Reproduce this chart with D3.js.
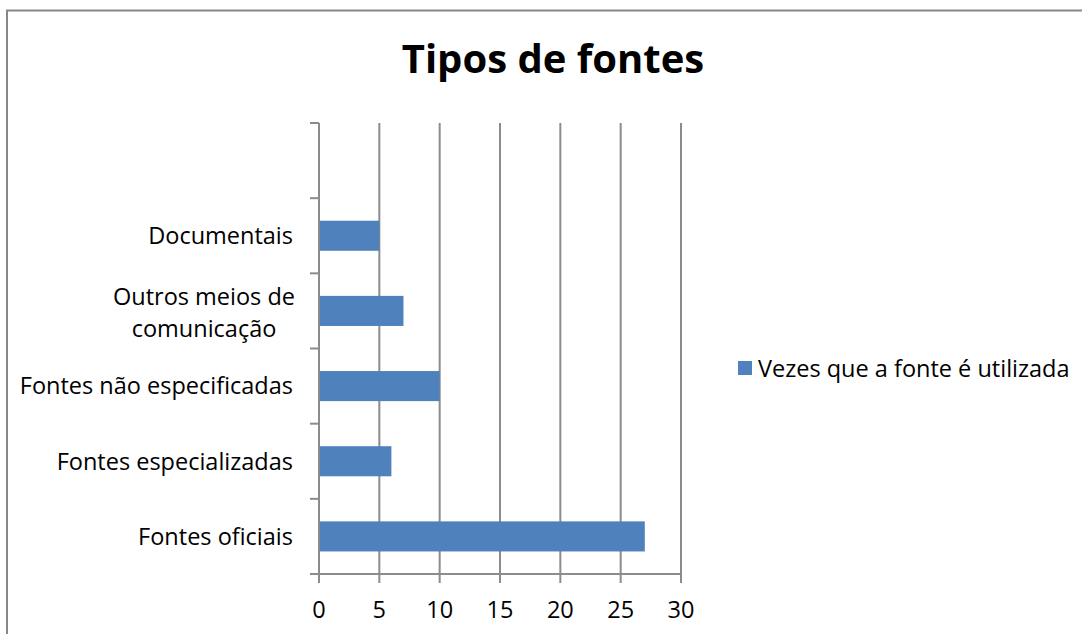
<!DOCTYPE html>
<html><head><meta charset="utf-8">
<script src="https://cdn.jsdelivr.net/npm/d3@7"></script>
<style>body{margin:0;background:#fff}svg{display:block}</style>
</head><body>
<script>
const categories = ["Fontes oficiais","Fontes especializadas","Fontes não especificadas","Outros meios de comunicação","Documentais",""];
const values = [27, 6, 10, 7, 5, null];
const xTicks = [0,5,10,15,20,25,30];
const seriesName = "Vezes que a fonte é utilizada";
const title = "Tipos de fontes";

const W=1082,H=634;
const svg=d3.select("body").append("svg").attr("width",W).attr("height",H);
const font="'Open Sans', 'Noto Sans', sans-serif";
// frame
svg.append("rect").attr("x",7).attr("y",10.5).attr("width",1100).attr("height",700)
  .attr("fill","none").attr("stroke","#888").attr("stroke-width",2);

const x=d3.scaleLinear().domain([0,30]).range([319,681]);
const y=d3.scaleBand().domain(categories.map((c,i)=>i)).range([574,123]).paddingInner(0.6).paddingOuter(0.3);
const yb=d3.scaleBand().domain(categories.map((c,i)=>i)).range([574,123]);

const g=svg.append("g");
// gridlines
g.selectAll("line.grid").data(xTicks.slice(1)).join("line")
 .attr("x1",d=>x(d)).attr("x2",d=>x(d)).attr("y1",123).attr("y2",583)
 .attr("stroke","#8c8c8c").attr("stroke-width",2);
// axis y
g.append("line").attr("x1",x(0)).attr("x2",x(0)).attr("y1",123).attr("y2",583).attr("stroke","#8c8c8c").attr("stroke-width",2);
g.append("line").attr("x1",310).attr("x2",x(30)+1).attr("y1",574).attr("y2",574).attr("stroke","#8c8c8c").attr("stroke-width",2);
const yTickPos=[...categories.map((c,i)=>yb(i)+yb.bandwidth())];
yTickPos.push(yb(categories.length-1));
g.selectAll("line.yt").data(yTickPos).join("line")
 .attr("x1",310).attr("x2",x(0)).attr("y1",d=>d).attr("y2",d=>d).attr("stroke","#8c8c8c").attr("stroke-width",2);

// bars
g.selectAll("rect.bar").data(values.map((v,i)=>({v,i})).filter(d=>d.v!=null)).join("rect")
 .attr("x",x(0)+1).attr("y",d=>y(d.i)).attr("width",d=>x(d.v)-x(0)-1).attr("height",y.bandwidth())
 .attr("fill","#4F81BD");

// category labels
const fs=23.5;
categories.forEach((c,i)=>{
  if(!c) return;
  const cy=yb(i)+yb.bandwidth()/2;
  const t=g.append("text").attr("x",293).attr("text-anchor","end").attr("font-family",font).attr("font-size",fs).attr("fill","#000");
  if(c==="Outros meios de comunicação"){
    t.attr("text-anchor","middle");
    t.append("tspan").attr("x",204).attr("y",305).text("Outros meios de");
    t.append("tspan").attr("x",204).attr("y",337).text("comunicação");
  } else {
    t.attr("y",cy+8.3).text(c);
  }
});
// x tick labels
g.selectAll("text.xt").data(xTicks).join("text")
 .attr("x",d=>x(d)).attr("y",618).attr("text-anchor","middle")
 .attr("font-family",font).attr("font-size",fs).text(d=>d);

// title
svg.append("text").attr("x",553).attr("y",73).attr("text-anchor","middle")
 .attr("font-family",font).attr("font-weight","bold").attr("font-size",40).text(title);

// legend
svg.append("rect").attr("x",738).attr("y",361).attr("width",14).attr("height",14).attr("fill","#4F81BD");
svg.append("text").attr("x",758).attr("y",376.5).attr("font-family",font).attr("font-size",fs).text(seriesName);
</script>
</body></html>
